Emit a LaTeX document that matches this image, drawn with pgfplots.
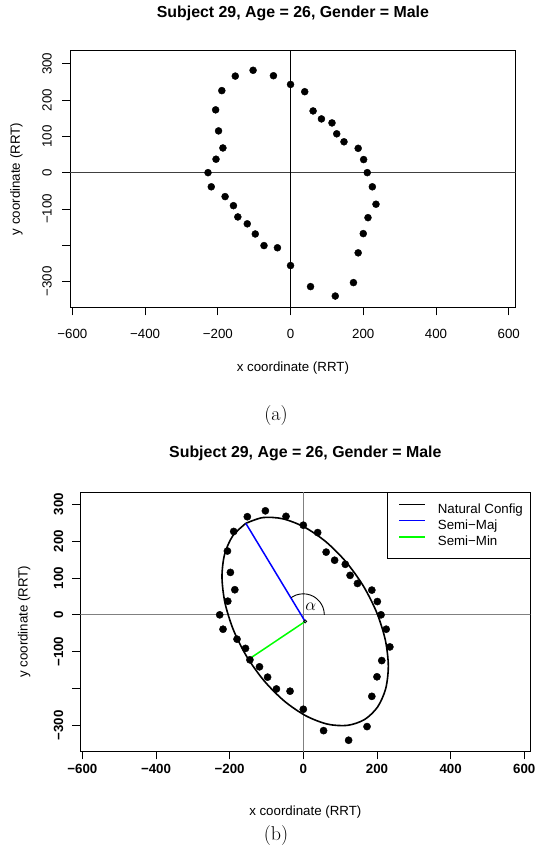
\documentclass[border=0pt]{standalone}
\usepackage{fontspec}
\usepackage{pgfplots}
\usepackage{pgfplotstable}
\pgfplotsset{compat=1.18}
\newfontfamily\helv{Liberation Sans}
\newcommand\rfont{\helv\fontsize{13.3bp}{16bp}\selectfont}
\newcommand\rbfont{\helv\bfseries\fontsize{13.3bp}{16bp}\selectfont}
\newcommand\rtitle{\helv\bfseries\fontsize{15.9bp}{19bp}\selectfont}
\newcommand\capfont{\fontsize{20bp}{24bp}\selectfont}
\definecolor{rgreen}{RGB}{0,255,0}
\definecolor{rblue}{RGB}{0,0,255}

\pgfplotstableread{
x y
-227 0
-205 37
-186 68
-198 115
-206 173
-189 226
-152 266
-103 282
-47 267
0 243
39 223
62 170
85 148
114 137
127 107
147 85
186 67
201 36
211 0
225 -39
235 -87
213 -124
200 -168
186 -221
173 -303
123 -340
55 -314
0 -256
-36 -207
-73 -201
-97 -169
-119 -141
-145 -122
-157 -91
-180 -66
-218 -39
}\pts

\pgfplotsset{
  rstyle/.style={
    scale only axis,
    axis line style={line width=0.8bp},
    tick align=outside,
    xtick pos=left, ytick pos=left,
    major tick length=8bp,
    every tick/.style={black, line width=0.8bp},
    xtick={-600,-400,-200,0,200,400,600},
    xticklabels={−600,−400,−200,0,200,400,600},
    ytick={-300,-200,-100,0,100,200,300},
    yticklabels={−300,,−100,0,100,200,300},
    xticklabel style={anchor=north, inner sep=0pt},
    yticklabel style={rotate=90, anchor=center, inner sep=0pt},
    xlabel={x coordinate (RRT)},
    ylabel={y coordinate (RRT)},
    title={Subject 29, Age = 26, Gender = Male},
    xlabel style={font=\rfont, anchor=center, inner sep=0pt},
    every axis y label/.style={font=\rfont, anchor=center, inner sep=0pt, rotate=90},
    title style={font=\rtitle, anchor=center, inner sep=0pt},
  }
}

\begin{document}
\begin{tikzpicture}
\path[use as bounding box] (0,0) rectangle (536bp,847bp);

% ---------------- (a)
\begin{axis}[rstyle,
  at={(70.2bp,539.7bp)}, anchor=south west,
  width=445.4bp, height=256.6bp,
  xmin=-606, xmax=619, ymin=-371, ymax=336,
  xticklabel style={font=\rfont},
  yticklabel style={font=\rfont},
  xticklabel shift=13.7bp,
  yticklabel shift=15.2bp,
  xlabel style={at={([yshift=-60.9bp]axis description cs:0.5,0)}},
  every axis y label/.append style={at={([xshift=-53.7bp]axis description cs:0,0.5)}},
  title style={at={([yshift=31.5bp]axis description cs:0.5,1)}},
]
\addplot[black!75, line width=0.8bp, forget plot] coordinates {(-700,0) (700,0)};
\addplot[black, line width=0.75bp, forget plot] coordinates {(0,-400) (0,400)};
\addplot[only marks, mark=*, mark size=3.5bp, black] table[x=x,y=y] {\pts};
\end{axis}

% ---------------- (b)
\begin{axis}[rstyle,
  at={(80.3bp,95.7bp)}, anchor=south west,
  width=450bp, height=259.3bp,
  xmin=-605.5, xmax=616.3, ymin=-370, ymax=333,
  xticklabel style={font=\rbfont},
  yticklabel style={font=\rbfont},
  xticklabel shift=4.4bp,
  yticklabel shift=13.8bp,
  xlabel style={at={([yshift=-61.2bp]axis description cs:0.5,0)}},
  every axis y label/.append style={at={([xshift=-56bp]axis description cs:0,0.5)}},
  title style={at={([yshift=32.5bp]axis description cs:0.5,1)}},
  legend style={at={(rel axis cs:1,1)}, anchor=north east, draw=black, line width=0.8bp,
    fill=white, font=\rfont, inner xsep=7bp, inner ysep=8.9bp,
    nodes={inner sep=0pt, text height=12bp, text depth=3.5bp},
    column sep=11.7bp, row sep=0.7bp},
  legend cell align=left,
  legend image code/.code={\path (0bp,0bp); \draw[#1, line width=1.5bp] (4.7bp,4.7bp) -- (30.7bp,4.7bp);},
]
\addplot[black!50, line width=1.1bp, forget plot] coordinates {(-700,0) (700,0)};
\addplot[black!50, line width=1.1bp, forget plot] coordinates {(0,-400) (0,400)};
\addplot[only marks, mark=*, mark size=3.6bp, black, forget plot] table[x=x,y=y] {\pts};
\addplot[black, line width=1.6bp, smooth] coordinates {
(-156.1,248.0) (-191.5,214.1) (-213.6,164.5) (-220.8,102.4) (-212.6,32.0)
(-189.5,-41.7) (-153.2,-113.8) (-106.1,-179.3) (-51.4,-234.0) (7.0,-273.8)
(65.4,-296.3) (119.7,-299.7) (166.1,-284.0) (201.5,-250.1) (223.6,-200.5)
(230.8,-138.4) (222.6,-68.0) (199.5,5.7) (163.2,77.8) (116.1,143.3)
(61.4,198.0) (3.0,237.8) (-55.4,260.3) (-109.7,263.7) (-156.1,248.0)};
\addlegendentry{Natural Config}
\addplot[rblue, line width=1.5bp] coordinates {(5,-18) (-156,248)};
\addlegendentry{Semi−Maj}
\addplot[rgreen, line width=1.5bp] coordinates {(5,-18) (-149,-121)};
\addlegendentry{Semi−Min}
\addplot[black, line width=0.9bp, smooth, forget plot] coordinates {
(57,0) (56.1,9.9) (53.6,19.5) (49.4,28.5) (43.7,36.6) (36.6,43.7) (28.5,49.4)
(19.5,53.6) (9.9,56.1) (0,57) (-9.9,56.1) (-19.5,53.6) (-28.5,49.4) (-32.7,46.7)};
\addplot[only marks, mark=o, mark size=1.6bp, black, line width=0.7bp, forget plot] coordinates {(5,-18)};
\node[font=\fontsize{18bp}{20bp}\selectfont, inner sep=0pt] at (axis cs:20,22) {$\alpha$};
\end{axis}

\node[font=\capfont, inner sep=0pt] at (276bp,431bp) {(a)};
\node[font=\capfont, inner sep=0pt] at (276bp,11bp) {(b)};
\end{tikzpicture}
\end{document}
